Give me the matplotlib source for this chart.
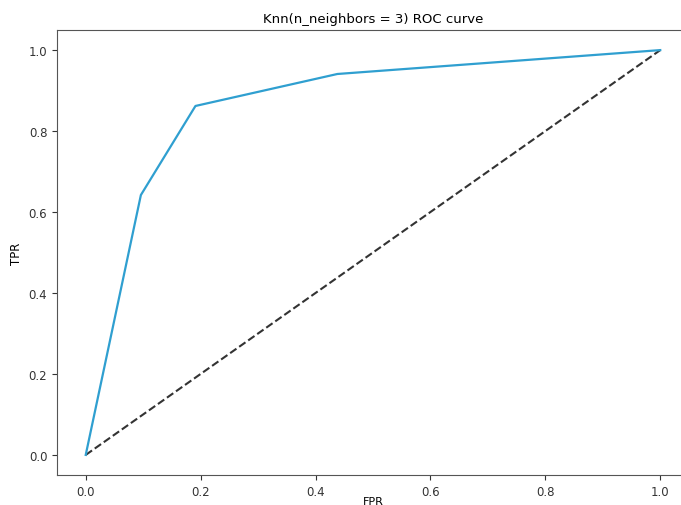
import matplotlib
matplotlib.use("Agg")
import matplotlib.pyplot as plt

fpr = [0.0, 0.096, 0.191, 0.438, 1.0]
tpr = [0.0, 0.642, 0.862, 0.941, 1.0]
diag = [0.0, 1.0]
title = "Knn(n_neighbors = 3) ROC curve"

plt.rcParams['font.size'] = 8.5
fig = plt.figure(figsize=(6.81, 5.06), dpi=100)
ax = fig.add_axes([0.0837, 0.059, 0.928, 0.88])
ax.plot(diag, diag, '--', lw=1.5, color='#333333')
ax.plot(fpr, tpr, color='#2f9fd0', lw=1.6)
ax.set_xlim(-0.05, 1.05)
ax.set_ylim(-0.05, 1.05)
ax.set_xlabel("FPR", labelpad=-1, fontsize=8)
ax.set_ylabel("TPR")
ax.set_title(title, fontsize=9.5)
ax.tick_params(colors='#333333', labelcolor='#333333')
for s in ax.spines.values():
    s.set_color('#555555')
ax.spines['right'].set_visible(False)
fig.savefig("out.png", dpi=100)
